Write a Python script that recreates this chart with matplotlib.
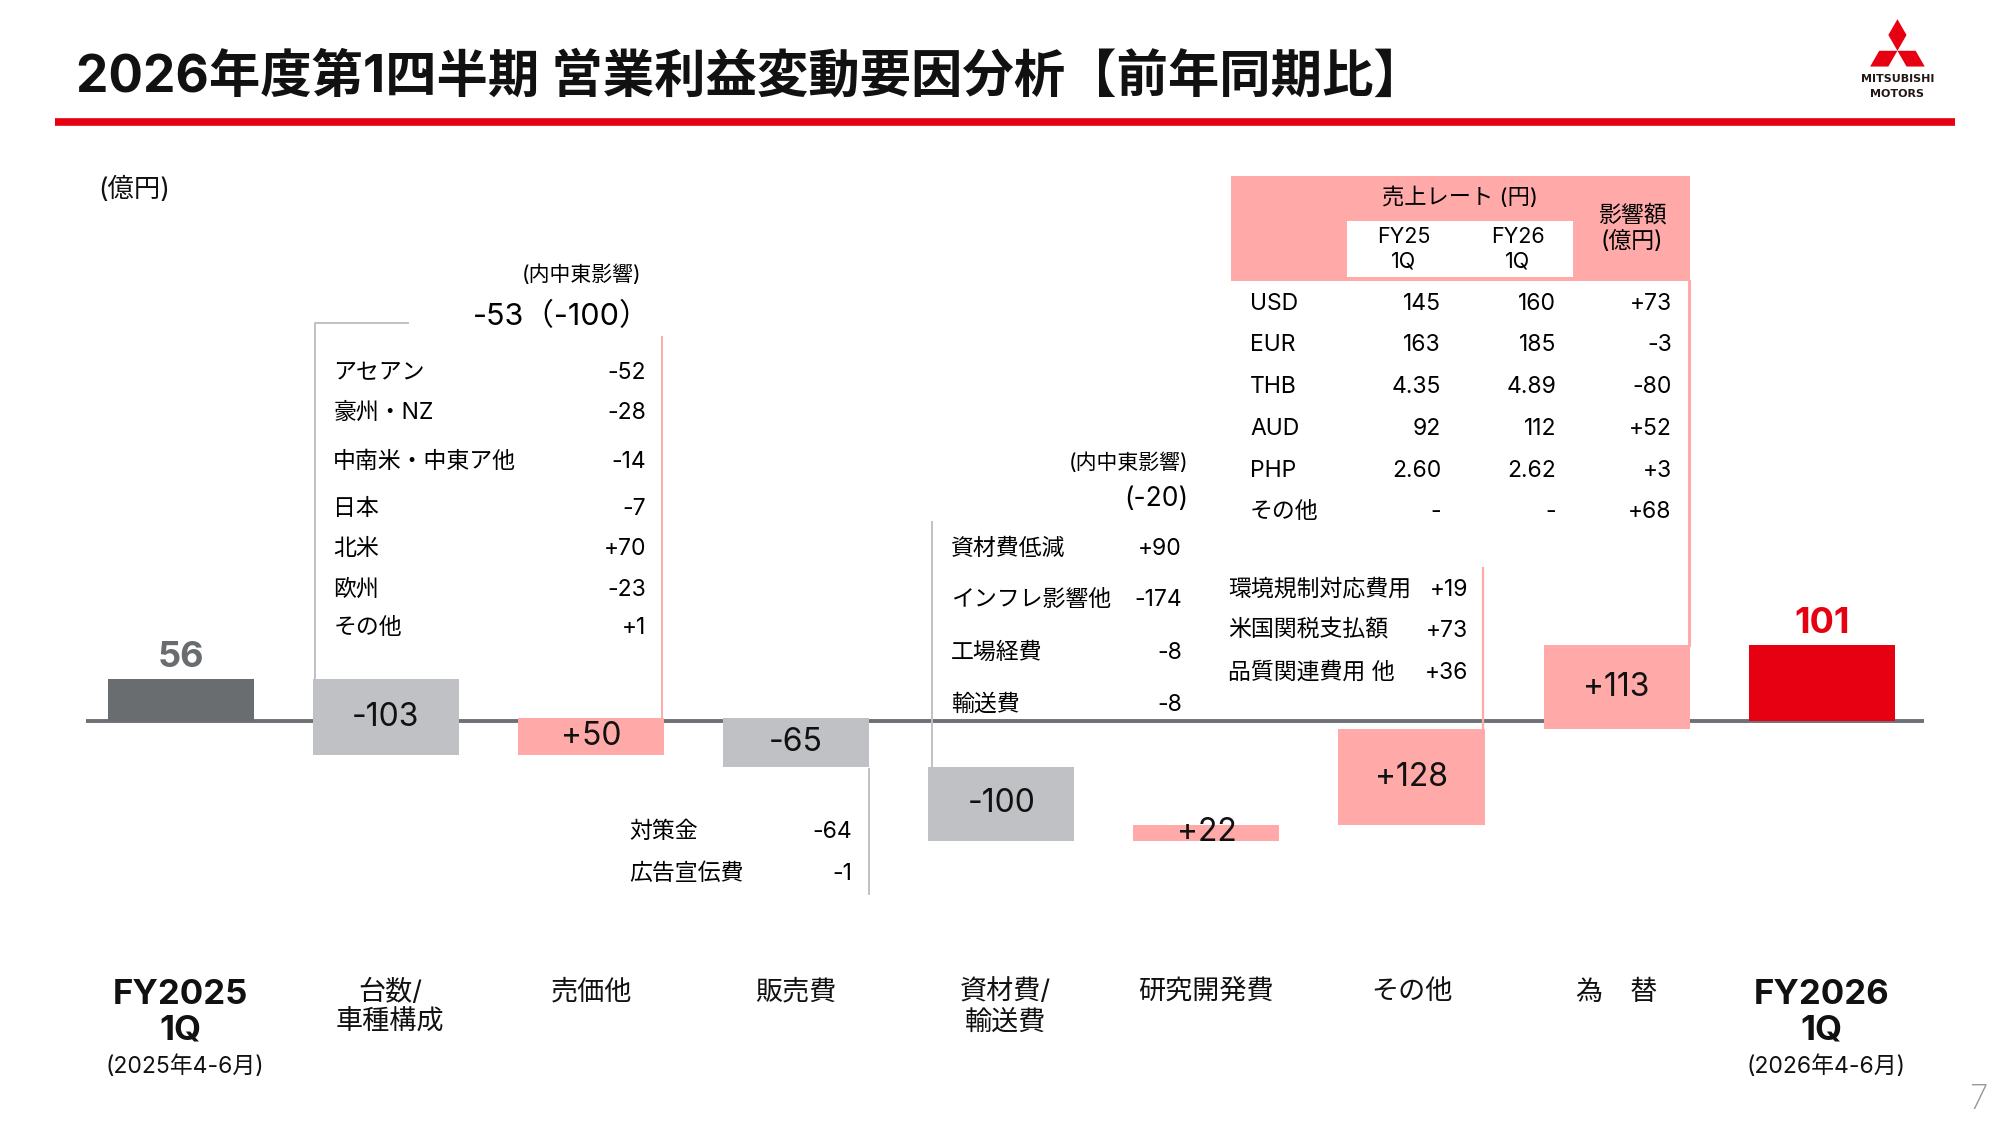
import numpy as np
import matplotlib
matplotlib.use("Agg")
import matplotlib.pyplot as plt
import matplotlib.transforms as mtransforms
from matplotlib.patches import Rectangle, Polygon

plt.rcParams['font.family'] = ['Inter', 'Noto Sans CJK JP', 'DejaVu Sans']

# ---- data ----
categories = ["FY2025\n1Q", "台数/\n車種構成", "売価他", "販売費", "資材費/\n輸送費",
              "研究開発費", "その他", "為　替", "FY2026\n1Q"]
start_value = 56
deltas = [-103, 50, -65, -100, 22, 128, 113]
end_value = 101
delta_labels = ["-103", "+50", "-65", "-100", "+22", "+128", "+113"]

vol_items = ["アセアン", "豪州・NZ", "中南米・中東ア他", "日本", "北米", "欧州", "その他"]
vol_values = ["-52", "-28", "-14", "-7", "+70", "-23", "+1"]
vol_total = "-53（-100）"

sell_items = ["対策金", "広告宣伝費"]
sell_values = ["-64", "-1"]

mat_items = ["資材費低減", "インフレ影響他", "工場経費", "輸送費"]
mat_values = ["+90", "-174", "-8", "-8"]
mat_me = "(-20)"

oth_items = ["環境規制対応費用", "米国関税支払額", "品質関連費用 他"]
oth_values = ["+19", "+73", "+36"]

fx_ccy = ["USD", "EUR", "THB", "AUD", "PHP", "その他"]
fx_fy25 = ["145", "163", "4.35", "92", "2.60", "-"]
fx_fy26 = ["160", "185", "4.89", "112", "2.62", "-"]
fx_impact = ["+73", "-3", "-80", "+52", "+3", "+68"]

RED = "#E60012"
PINK = "#FFA9A9"
LGRAY = "#BFC1C4"
DGRAY = "#696D70"
INK = "#111111"

W, H = 1560, 877.5
PXU = 0.58      # pixels per 億円 on the page
BASE_Y = 562
X0, DX = 141, 160

fig = plt.figure(figsize=(20, 11.25), dpi=100)

# bar axes spans the whole page
ax = fig.add_axes([0, 0, 1, 1])
ax.set_xlim(-X0 / DX, (W - X0) / DX)
ax.set_ylim(-(H - BASE_Y) / PXU, BASE_Y / PXU)
ax.axis('off')

# overlay axes in page pixels (y down)
ov = fig.add_axes([0, 0, 1, 1], zorder=3)
ov.set_xlim(0, W)
ov.set_ylim(H, 0)
ov.axis('off')
ov.patch.set_alpha(0)

xmix = mtransforms.blended_transform_factory(ax.transData, ov.transData)

# ---- waterfall ----
n = len(categories)
xs = np.arange(n)
levels = np.concatenate([[start_value], start_value + np.cumsum(deltas)])
bottoms = [0] + [min(levels[i], levels[i + 1]) for i in range(len(deltas))] + [0]
heights = [start_value] + [abs(d) for d in deltas] + [end_value]
colors = [DGRAY] + [PINK if d > 0 else LGRAY for d in deltas] + [RED]

ax.plot([(67 - X0) / DX, (1501 - X0) / DX], [0, 0], color="#6D7175", lw=2.8, zorder=1,
        solid_capstyle='butt')
ax.bar(xs, heights, bottom=bottoms, width=114 / DX, color=colors, zorder=2)

for i, lab in enumerate(delta_labels):
    ax.text(xs[i + 1], bottoms[i + 1] + heights[i + 1] / 2, lab, ha='center', va='center',
            fontsize=23, color=INK, zorder=4)
ax.text(xs[0], start_value + 29, str(start_value), ha='center', va='center', fontsize=26,
        fontweight='bold', color=DGRAY)
ax.text(xs[-1], end_value + 29, str(end_value), ha='center', va='center', fontsize=26,
        fontweight='bold', color=RED)

# category labels
for i, cat in enumerate(categories):
    bold = cat.startswith("FY")
    ax.text(xs[i] + (0.02 if i in (1, 4) else 0), 764, cat, transform=xmix, ha='center',
            va='top', fontsize=25 if bold else 19.5, fontweight='bold' if bold else 'normal',
            linespacing=1.12 if bold else 1.2, color=INK)
for i, yr in ((0, "2025"), (n - 1, "2026")):
    ax.text(xs[i] + 0.02, 832, "(" + yr + "年4-6月)", transform=xmix, ha='center',
            va='center', fontsize=16.5, color=INK)

# ---- header ----
ov.text(59, 61, "2026年度第1四半期 営業利益変動要因分析【前年同期比】", fontsize=37,
        fontweight='bold', va='center', ha='left', color=INK)
ov.plot([43, 1525], [95, 95], color=RED, lw=5.5, solid_capstyle='butt')

# logo
s = 14.2
cx, cy = 1480, 39.6
def uv(a):
    r = np.deg2rad(a)
    return np.array([np.cos(r), -np.sin(r)])
c = np.array([cx, cy])
for th in (90, 210, 330):
    pts = [c, c + s * uv(th - 30), c + np.sqrt(3) * s * uv(th), c + s * uv(th + 30)]
    ov.add_patch(Polygon(pts, closed=True, color=RED, lw=0))
ov.text(cx, 62, "MITSUBISHI", ha='center', va='center', fontsize=8, fontweight='bold',
        family='DejaVu Sans', color="#231815")
ov.text(cx, 73, "MOTORS", ha='center', va='center', fontsize=8, fontweight='bold',
        family='DejaVu Sans', color="#231815")

ov.text(77, 148, "(億円)", fontsize=19, va='center', ha='left', color=INK)
ov.text(1543, 858, "7", fontsize=24, va='center', ha='center', color="#9A9A9A",
        fontweight='light')

FS = 16.5
# ---- 台数/車種構成 detail ----
ov.plot([246, 246, 318], [530, 252, 252], color=LGRAY, lw=1.4)
ov.plot([516, 516], [263, 562], color=PINK, lw=1.4)
ov.text(500, 214, "(内中東影響)", ha='right', va='center', fontsize=15)
ov.text(507, 247, vol_total, ha='right', va='center', fontsize=22)
vol_y = [291, 322, 360, 397, 428, 460, 490]
for y, it, v in zip(vol_y, vol_items, vol_values):
    ov.text(260, y, it, ha='left', va='center', fontsize=FS)
    ov.text(504, y, v, ha='right', va='center', fontsize=FS)

# ---- 販売費 detail ----
ov.plot([678, 678], [600, 697], color=LGRAY, lw=1.4)
for y, it, v in zip([649, 682], sell_items, sell_values):
    ov.text(491, y, it, ha='left', va='center', fontsize=FS)
    ov.text(665, y, v, ha='right', va='center', fontsize=FS)

# ---- 資材費/輸送費 detail ----
ov.plot([727, 727], [407, 600], color=LGRAY, lw=1.4)
ov.text(927, 361, "(内中東影響)", ha='right', va='center', fontsize=15)
ov.text(927, 389, mat_me, ha='right', va='center', fontsize=19)
for y, it, v in zip([428, 468, 509, 550], mat_items, mat_values):
    ov.text(742, y, it, ha='left', va='center', fontsize=FS)
    ov.text(922, y, v, ha='right', va='center', fontsize=FS)

# ---- その他 detail ----
ov.plot([1157, 1157], [443, 571], color=PINK, lw=1.6)
for y, it, v in zip([460, 492, 525], oth_items, oth_values):
    ov.text(958, y, it, ha='left', va='center', fontsize=FS)
    ov.text(1145, y, v, ha='right', va='center', fontsize=FS)

# ---- 為替 table ----
ov.add_patch(Rectangle((960, 137), 358, 82, color=PINK, lw=0))
ov.add_patch(Rectangle((1051, 172), 176, 44, color="white", lw=0))
ov.plot([1317.5, 1317.5], [219, 503], color=PINK, lw=2.2)
ov.text(1139, 154, "売上レート (円)", ha='center', va='center', fontsize=16)
for x, fy in ((1095, "FY25"), (1184, "FY26")):
    ov.text(x, 185, fy, ha='center', va='center', fontsize=15.5)
    ov.text(x, 204, "1Q", ha='center', va='center', fontsize=15.5)
ov.text(1273, 168, "影響額", ha='center', va='center', fontsize=16.5)
ov.text(1273, 189, "(億円)", ha='center', va='center', fontsize=16.5)
fx_y = [237, 269, 302, 335, 367, 399]
for y, cc, a, b, d in zip(fx_y, fx_ccy, fx_fy25, fx_fy26, fx_impact):
    ov.text(975, y, cc, ha='left', va='center', fontsize=FS)
    ov.text(1124, y, a, ha='right', va='center', fontsize=FS)
    ov.text(1214, y, b, ha='right', va='center', fontsize=FS)
    ov.text(1304, y, d, ha='right', va='center', fontsize=FS)

fig.savefig("out.png", dpi=100, facecolor="white")
